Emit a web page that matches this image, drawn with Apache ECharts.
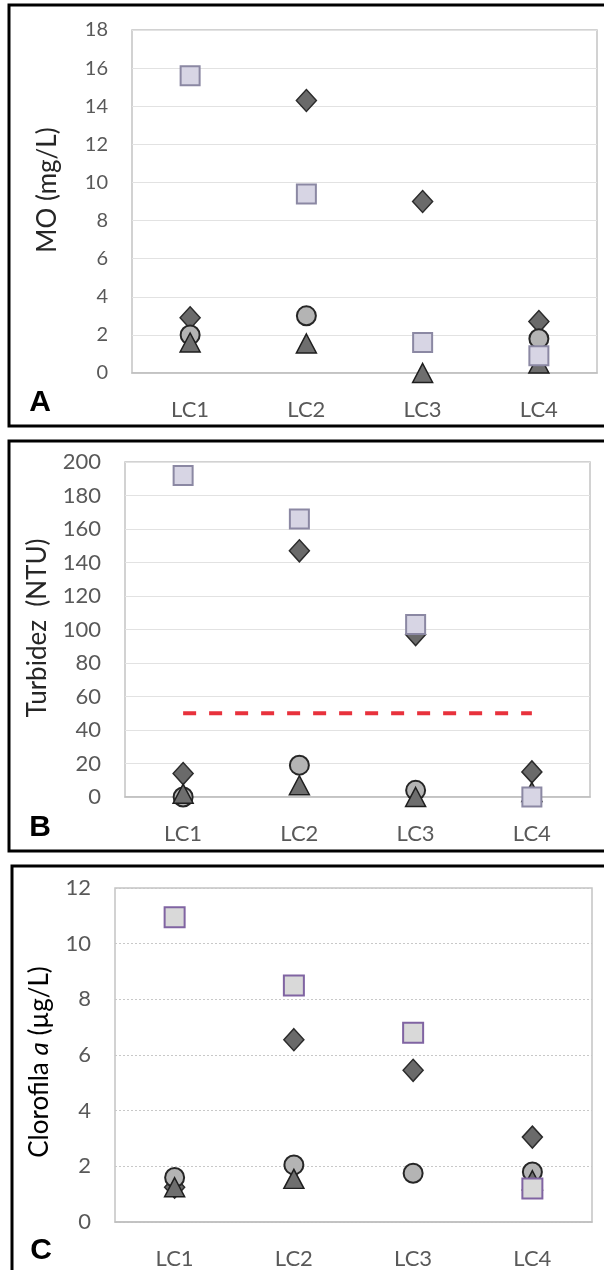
<!DOCTYPE html>
<html>
<head>
<meta charset="utf-8">
<script src="https://cdn.jsdelivr.net/npm/echarts@6/dist/echarts.min.js"></script>
<style>
  html, body { margin: 0; padding: 0; background: #ffffff; }
  #chart { width: 604px; height: 1270px; }
</style>
</head>
<body>
<div id="chart"></div>
<script>
// Sampling sites
const categories = ['LC1', 'LC2', 'LC3', 'LC4'];

// Panel A: MO (mg/L)
const moDiamond  = [2.9, 14.3, 9.0, 2.7];
const moCircle   = [2.0, 3.0, null, 1.8];
const moTriangle = [1.6, 1.55, 0, 0.5];
const moSquare   = [15.6, 9.4, 1.6, 0.9];

// Panel B: Turbidez (NTU)
const turbDiamond  = [14, 147, 97, 15];
const turbCircle   = [0, 19, 4, null];
const turbTriangle = [2, 7, 0, 3];
const turbSquare   = [192, 166, 103, 0];
const turbLimit    = [50, 50, 50, 50];

// Panel C: Clorofila a (µg/L)
const chlDiamond  = [1.25, 6.55, 5.45, 3.05];
const chlCircle   = [1.6, 2.05, 1.75, 1.8];
const chlTriangle = [1.25, 1.55, null, 1.5];
const chlSquare   = [10.95, 8.5, 6.8, 1.2];

// Axis ranges
const yRanges = [
  { min: 0, max: 18, interval: 2 },
  { min: 0, max: 200, interval: 20 },
  { min: 0, max: 12, interval: 2 }
];

const FONT = 'Lato, "Open Sans", sans-serif';
const labelColor = '#595959';

const grids = [
  { left: 132, top: 30, width: 465, height: 343 },
  { left: 125, top: 462, width: 465, height: 335 },
  { left: 115, top: 888, width: 477, height: 337 }
].map(g => Object.assign({ show: true, borderColor: '#c4c4c4', borderWidth: 1.5, backgroundColor: 'transparent' }, g));

const tickFont = [20, 22, 22];

const xAxes = [0, 1, 2].map(i => ({
  type: 'category',
  gridIndex: i,
  data: categories,
  boundaryGap: true,
  axisTick: { show: false },
  axisLine: { show: true, lineStyle: { color: '#bfbfbf', width: 1.5 } },
  axisLabel: { color: labelColor, fontFamily: FONT, fontSize: 22, margin: 26 },
  splitLine: { show: false }
}));

const yAxes = [0, 1, 2].map(i => ({
  type: 'value',
  gridIndex: i,
  min: yRanges[i].min,
  max: yRanges[i].max,
  interval: yRanges[i].interval,
  axisLine: { show: false },
  axisTick: { show: false },
  axisLabel: { color: labelColor, fontFamily: FONT, fontSize: tickFont[i], margin: 24 },
  splitLine: {
    show: true,
    lineStyle: i === 2
      ? { color: '#c8c8c8', type: [2, 2], width: 1 }
      : { color: '#e2e2e2', type: 'solid', width: 1.2 }
  }
}));

// Marker styles shared across panels
const diamondStyle  = { symbol: 'diamond',  symbolSize: [20, 22], itemStyle: { color: '#6a6a6a', borderColor: '#2b2b2b', borderWidth: 1.5, opacity: 1 } };
const circleStyle   = { symbol: 'circle',   symbolSize: 19,       itemStyle: { color: '#b4b4b4', borderColor: '#262626', borderWidth: 2, opacity: 1 } };
const triangleStyle = { symbol: 'triangle', symbolSize: [20, 19], itemStyle: { color: '#6e6e6e', borderColor: '#1e1e1e', borderWidth: 1.5, opacity: 1 } };
const squareAB = { symbol: 'rect', symbolSize: 19, itemStyle: { color: '#d7d5e4', borderColor: '#8b88a3', borderWidth: 2, opacity: 1 } };
const squareC  = { symbol: 'rect', symbolSize: 20, itemStyle: { color: '#d9d9d9', borderColor: '#8064a2', borderWidth: 2, opacity: 1 } };

function scatter(idx, data, style) {
  return Object.assign({
    type: 'scatter',
    xAxisIndex: idx,
    yAxisIndex: idx,
    data: data,
    emphasis: { disabled: true },
    silent: true
  }, JSON.parse(JSON.stringify(style)));
}

const series = [
  // A
  scatter(0, moDiamond, diamondStyle),
  scatter(0, moCircle, circleStyle),
  scatter(0, moTriangle, triangleStyle),
  scatter(0, moSquare, squareAB),
  // B: guideline at 50 NTU
  {
    type: 'line', xAxisIndex: 1, yAxisIndex: 1, data: turbLimit,
    showSymbol: false, symbol: 'none', silent: true,
    lineStyle: { color: '#e8313c', width: 4, type: [13, 13] }
  },
  scatter(1, turbDiamond, diamondStyle),
  scatter(1, turbCircle, circleStyle),
  scatter(1, turbTriangle, triangleStyle),
  scatter(1, turbSquare, squareAB),
  // C
  scatter(2, chlDiamond, diamondStyle),
  scatter(2, chlCircle, circleStyle),
  scatter(2, chlTriangle, triangleStyle),
  scatter(2, chlSquare, squareC)
];

const titleStyle = { font: '26px ' + FONT, fill: '#262626', align: 'center', verticalAlign: 'middle' };

const graphic = [
  // panel frames
  { type: 'rect', shape: { x: 9, y: 5, width: 640, height: 421 }, style: { fill: 'none', stroke: '#000', lineWidth: 3 }, silent: true },
  { type: 'rect', shape: { x: 9, y: 441, width: 640, height: 410 }, style: { fill: 'none', stroke: '#000', lineWidth: 3 }, silent: true },
  { type: 'rect', shape: { x: 12, y: 866, width: 640, height: 440 }, style: { fill: 'none', stroke: '#000', lineWidth: 3 }, silent: true },
  // panel letters
  { type: 'text', x: 40, y: 403, silent: true, style: { text: 'A', font: 'bold 30px "Liberation Sans", Arial, sans-serif', fill: '#000', align: 'center', verticalAlign: 'middle' } },
  { type: 'text', x: 40, y: 828, silent: true, style: { text: 'B', font: 'bold 30px "Liberation Sans", Arial, sans-serif', fill: '#000', align: 'center', verticalAlign: 'middle' } },
  { type: 'text', x: 41, y: 1251, silent: true, style: { text: 'C', font: 'bold 30px "Liberation Sans", Arial, sans-serif', fill: '#000', align: 'center', verticalAlign: 'middle' } },
  // axis titles
  { type: 'text', x: 48, y: 190, rotation: Math.PI / 2, silent: true, style: Object.assign({ text: 'MO (mg/L)' }, titleStyle) },
  { type: 'text', x: 38, y: 628, rotation: Math.PI / 2, silent: true, style: Object.assign({ text: 'Turbidez  (NTU)' }, titleStyle) },
  { type: 'text', x: 40, y: 1062, rotation: Math.PI / 2, silent: true, style: {
      text: '{n|Clorofila }{i|a}{n| (µg/L)}',
      align: 'center', verticalAlign: 'middle',
      rich: {
        n: { fontFamily: FONT, fontSize: 26, color: '#262626' },
        i: { fontFamily: FONT, fontSize: 26, fontStyle: 'italic', color: '#262626' }
      }
  } }
];

const chart = echarts.init(document.getElementById('chart'), null, { renderer: 'canvas' });
chart.setOption({
  animation: false,
  backgroundColor: '#ffffff',
  grid: grids,
  xAxis: xAxes,
  yAxis: yAxes,
  series: series,
  graphic: graphic
});
</script>
</body>
</html>
